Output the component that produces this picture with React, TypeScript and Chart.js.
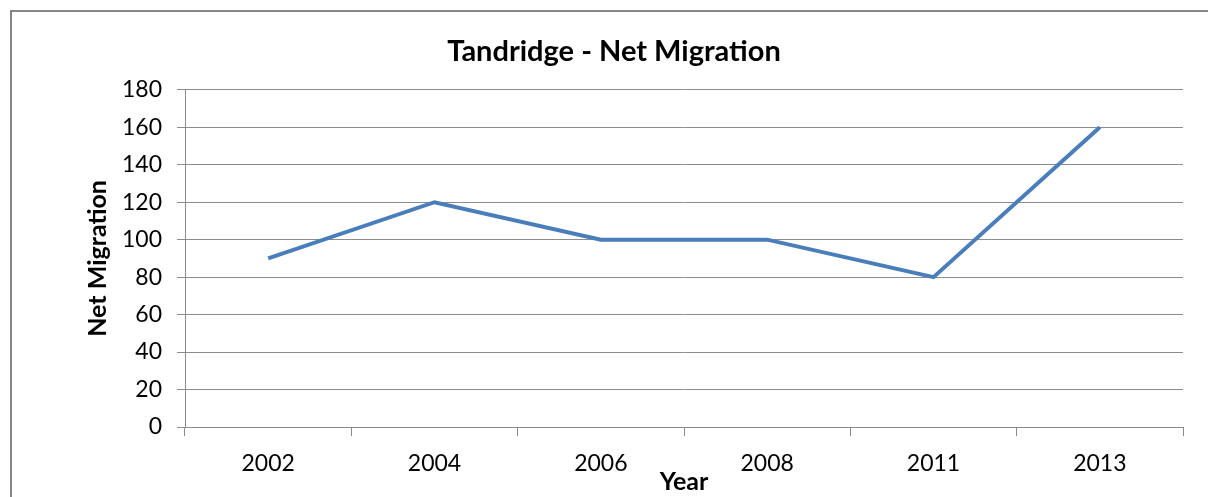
import React, { useEffect, useRef } from "react";
import { Chart, registerables } from "chart.js";

Chart.register(...registerables);

const categories = ["2002", "2004", "2006", "2008", "2011", "2013"];
const netMigration = [90, 120, 100, 100, 80, 160];
const yTicks = [0, 20, 40, 60, 80, 100, 120, 140, 160, 180];

const FONT = "Lato";

const borderPlugin = {
  id: "outerBorder",
  beforeDraw(chart: any) {
    const ctx = chart.ctx;
    ctx.save();
    ctx.fillStyle = "#ffffff";
    ctx.fillRect(0, 0, chart.width, chart.height);
    ctx.strokeStyle = "#868686";
    ctx.lineWidth = 2;
    ctx.strokeRect(11, 11, chart.width + 40, chart.height + 40);
    ctx.restore();
  },
};

export default function App() {
  const ref = useRef<HTMLCanvasElement | null>(null);
  useEffect(() => {
    if (!ref.current) return;
    const chart = new Chart(ref.current, {
      type: "line",
      data: {
        labels: categories,
        datasets: [
          {
            label: "Net Migration",
            data: netMigration,
            borderColor: "#4a7ebb",
            borderWidth: 4,
            pointRadius: 0,
            tension: 0,
            fill: false,
          },
        ],
      },
      options: {
        responsive: false,
        animation: false,
        layout: { padding: { left: 45, right: 25, top: 0, bottom: 0 } },
        plugins: {
          legend: { display: false },
          tooltip: { enabled: false },
          title: {
            display: true,
            text: "Tandridge - Net Migration",
            color: "#000000",
            font: { family: FONT, size: 29, weight: "bold" },
            padding: { top: 34, bottom: 21 },
          },
        },
        scales: {
          x: {
            type: "category",
            offset: true,
            grid: {
              offset: true,
              drawOnChartArea: false,
              drawTicks: true,
              tickLength: 9,
              color: "#8c8c8c",
            },
            border: { display: true, color: "#8c8c8c" },
            ticks: {
              color: "#000000",
              font: { family: FONT, size: 23 },
              padding: 14,
              maxRotation: 0,
            },
            title: {
              display: true,
              text: "Year",
              color: "#000000",
              font: { family: FONT, size: 25, weight: "bold" },
              padding: { top: 0, bottom: 0 },
            },
            afterFit: (scale: any) => {
              scale.height = 70;
            },
          },
          y: {
            min: 0,
            max: 180,
            afterBuildTicks: (scale: any) => {
              scale.ticks = yTicks.map((v) => ({ value: v }));
            },
            grid: {
              color: "#8c8c8c",
              tickLength: 8,
              drawTicks: true,
            },
            border: { display: true, color: "#8c8c8c" },
            ticks: {
              color: "#000000",
              font: { family: FONT, size: 23 },
              padding: 15,
            },
            title: {
              display: true,
              text: "Net Migration",
              color: "#000000",
              font: { family: FONT, size: 25, weight: "bold" },
              padding: { top: 38, bottom: 0 },
            },
            afterFit: (scale: any) => {
              scale.width = 140;
            },
          },
        },
      },
      plugins: [borderPlugin],
    });
    return () => chart.destroy();
  }, []);
  return (
    <div style={{ position: "absolute", left: 0, top: 0, width: 1208, height: 497 }}>
      <canvas ref={ref} width={1208} height={497} style={{ display: "block" }} />
    </div>
  );
}
